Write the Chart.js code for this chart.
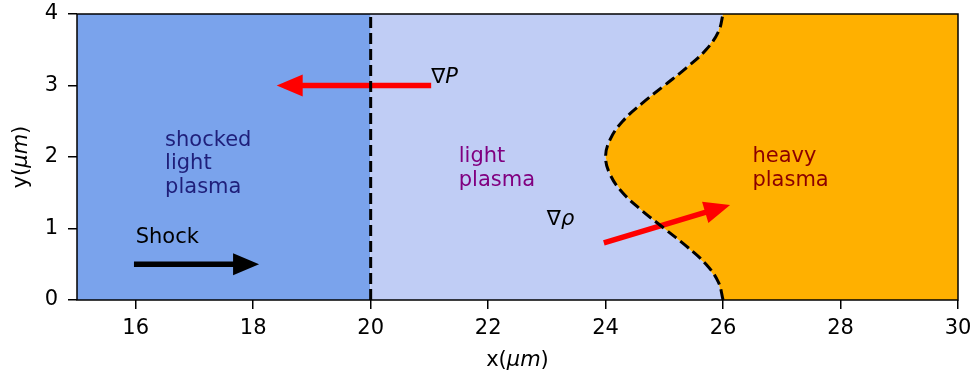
<!DOCTYPE html>
<html>
<head>
<meta charset="utf-8">
<script src="https://cdn.jsdelivr.net/npm/chart.js@4"></script>
<style>
  html, body { margin: 0; padding: 0; background: #fff; }
  #wrap { width: 973px; height: 373px; }
</style>
</head>
<body>
<div id="wrap"><canvas id="plasmaChart"></canvas></div>
<script>
const xTicks = [16, 18, 20, 22, 24, 26, 28, 30];
const yTicks = [0, 1, 2, 3, 4];
const xRange = [15, 30];
const yRange = [0, 4];

// shock front (vertical dashed line)
const shockFrontX = 20;

// light / heavy interface, x at each y
const interfaceY = [0, 0.25, 0.5, 0.75, 1, 1.25, 1.5, 1.75, 2, 2.25, 2.5, 2.75, 3, 3.25, 3.5, 3.75, 4];
const interfaceX = [26, 25.92, 25.71, 25.38, 25, 24.62, 24.29, 24.08, 24, 24.08, 24.29, 24.62, 25, 25.38, 25.71, 25.92, 26];

// arrows: [x0, y0, x1, y1] in data units
const gradPArrow = [21.03, 3, 18.4, 3];
const gradRhoArrow = [23.97, 0.8, 26.12, 1.33];
const shockArrow = [15.97, 0.5, 18.1, 0.5];

// region labels
const regionLabels = [['shocked', 'light', 'plasma'], ['light', 'plasma'], ['heavy', 'plasma']];
const regionLabelX = [16.5, 21.5, 26.5];
const regionLabelY = [1.5, 1.6, 1.6];
const regionLabelColors = ['#1f1f7a', '#800080', '#8b0000'];

const FONT = "'DejaVu Sans', sans-serif";
const FONT_SIZE = 21;

const curvePts = interfaceY.map((y, i) => ({ x: interfaceX[i], y }));

// polygons for the three regions
const shockedPoly = [
  { x: xRange[0], y: yRange[0] }, { x: xRange[0], y: yRange[1] },
  { x: shockFrontX, y: yRange[1] }, { x: shockFrontX, y: yRange[0] }
];
const lightPoly = [
  { x: shockFrontX, y: yRange[0] }, { x: shockFrontX, y: yRange[1] }
].concat(curvePts.slice().reverse());
const heavyPoly = curvePts.concat([{ x: xRange[1], y: yRange[1] }, { x: xRange[1], y: yRange[0] }]);

function region(label, data, color) {
  return {
    label, data,
    showLine: true,
    fill: 'shape',
    backgroundColor: color,
    borderWidth: 0,
    pointRadius: 0,
    tension: 0.0001
  };
}

function drawArrow(ctx, chart, a, color) {
  const xs = chart.scales.x, ys = chart.scales.y;
  const x0 = xs.getPixelForValue(a[0]), y0 = ys.getPixelForValue(a[1]);
  const x1 = xs.getPixelForValue(a[2]), y1 = ys.getPixelForValue(a[3]);
  const len = Math.hypot(x1 - x0, y1 - y0);
  const ux = (x1 - x0) / len, uy = (y1 - y0) / len;
  const nx = -uy, ny = ux;
  const w = 2.7, hl = 26, hw = 11;
  const bx = x1 - ux * hl, by = y1 - uy * hl;
  ctx.save();
  ctx.fillStyle = color;
  ctx.beginPath();
  ctx.moveTo(x0 + nx * w, y0 + ny * w);
  ctx.lineTo(bx + nx * w, by + ny * w);
  ctx.lineTo(bx + nx * hw, by + ny * hw);
  ctx.lineTo(x1, y1);
  ctx.lineTo(bx - nx * hw, by - ny * hw);
  ctx.lineTo(bx - nx * w, by - ny * w);
  ctx.lineTo(x0 - nx * w, y0 - ny * w);
  ctx.closePath();
  ctx.fill();
  ctx.restore();
}

// text made of [string, italic] parts
function drawParts(ctx, parts, x, y, size, color, align) {
  ctx.save();
  ctx.fillStyle = color;
  ctx.textBaseline = 'alphabetic';
  let total = 0;
  parts.forEach(p => {
    ctx.font = (p[1] ? 'italic ' : '') + size + 'px ' + FONT;
    total += ctx.measureText(p[0]).width;
  });
  let cx = align === 'center' ? x - total / 2 : x;
  parts.forEach(p => {
    ctx.font = (p[1] ? 'italic ' : '') + size + 'px ' + FONT;
    ctx.textAlign = 'left';
    ctx.fillText(p[0], cx, y);
    cx += ctx.measureText(p[0]).width;
  });
  ctx.restore();
}

const decorPlugin = {
  id: 'decor',
  afterDatasetDraw(chart, args) {
    // arrows go over the regions but under the dashed interfaces
    if (args.index !== 2) return;
    const ctx = chart.ctx;
    const area = chart.chartArea;
    ctx.save();
    ctx.beginPath();
    ctx.rect(area.left, area.top, area.right - area.left, area.bottom - area.top);
    ctx.clip();
    drawArrow(ctx, chart, gradPArrow, '#ff0000');
    drawArrow(ctx, chart, gradRhoArrow, '#ff0000');
    drawArrow(ctx, chart, shockArrow, '#000000');
    ctx.restore();
  },
  afterDatasetsDraw(chart) {
    const ctx = chart.ctx;
    const xs = chart.scales.x, ys = chart.scales.y;
    const lh = 23.5;

    regionLabels.forEach((lines, i) => {
      const px = xs.getPixelForValue(regionLabelX[i]);
      const py = ys.getPixelForValue(regionLabelY[i]);
      lines.forEach((t, k) => {
        drawParts(ctx, [[t, false]], px, py - (lines.length - 1 - k) * lh, FONT_SIZE, regionLabelColors[i], 'left');
      });
    });

    drawParts(ctx, [['Shock', false]], xs.getPixelForValue(16), ys.getPixelForValue(0.8), FONT_SIZE, '#000', 'left');
    drawParts(ctx, [['\u2207', false], ['P', true]], xs.getPixelForValue(21.03), ys.getPixelForValue(3.03), FONT_SIZE, '#000', 'left');
    drawParts(ctx, [['\u2207', false], ['\u03c1', true]], xs.getPixelForValue(23), ys.getPixelForValue(1.05), FONT_SIZE, '#000', 'left');
  },
  afterDraw(chart) {
    const ctx = chart.ctx;
    const a = chart.chartArea;
    ctx.save();
    ctx.strokeStyle = '#000';
    ctx.lineWidth = 1.5;
    ctx.strokeRect(a.left, a.top, a.right - a.left, a.bottom - a.top);
    ctx.restore();

    // axis titles
    drawParts(ctx, [['x(', false], ['\u03bcm', true], [')', false]], (a.left + a.right) / 2, 366, FONT_SIZE, '#000', 'center');
    ctx.save();
    ctx.translate(27, (a.top + a.bottom) / 2);
    ctx.rotate(-Math.PI / 2);
    drawParts(ctx, [['y(', false], ['\u03bcm', true], [')', false]], 0, 0, FONT_SIZE, '#000', 'center');
    ctx.restore();
  }
};

const tickFont = { family: FONT, size: FONT_SIZE };

new Chart(document.getElementById('plasmaChart'), {
  type: 'scatter',
  data: {
    datasets: [
      {
        label: 'interface',
        data: curvePts,
        showLine: true,
        fill: false,
        borderColor: '#000',
        borderWidth: 3,
        borderDash: [11, 5],
        pointRadius: 0,
        tension: 0.4
      },
      {
        label: 'shock front',
        data: [{ x: shockFrontX, y: yRange[0] }, { x: shockFrontX, y: yRange[1] }],
        showLine: true,
        fill: false,
        borderColor: '#000',
        borderWidth: 3,
        borderDash: [11, 5],
        pointRadius: 0
      },
      region('heavy plasma', heavyPoly, '#ffb000'),
      region('light plasma', lightPoly, '#c0cdf5'),
      region('shocked light plasma', shockedPoly, '#7aa3ec')
    ]
  },
  options: {
    responsive: true,
    maintainAspectRatio: false,
    animation: false,
    layout: { padding: { top: 14, right: 15, left: 0, bottom: 0 } },
    plugins: {
      legend: { display: false },
      tooltip: { enabled: false }
    },
    scales: {
      x: {
        type: 'linear',
        min: xRange[0],
        max: xRange[1],
        afterBuildTicks: s => { s.ticks = xTicks.map(v => ({ value: v })); },
        afterFit: s => { s.height = 73; s.paddingLeft = 0; s.paddingRight = 0; },
        border: { display: false },
        grid: { drawOnChartArea: false, drawTicks: true, tickLength: 9, color: '#000', lineWidth: 1.5 },
        ticks: { font: tickFont, color: '#000', padding: 7, maxRotation: 0 }
      },
      y: {
        type: 'linear',
        min: yRange[0],
        max: yRange[1],
        afterBuildTicks: s => { s.ticks = yTicks.map(v => ({ value: v })); },
        afterFit: s => { s.width = 77; s.paddingTop = 0; s.paddingBottom = 0; },
        border: { display: false },
        grid: { drawOnChartArea: false, drawTicks: true, tickLength: 9, color: '#000', lineWidth: 1.5 },
        ticks: { font: tickFont, color: '#000', padding: 10 }
      }
    }
  },
  plugins: [decorPlugin]
});
</script>
</body>
</html>
